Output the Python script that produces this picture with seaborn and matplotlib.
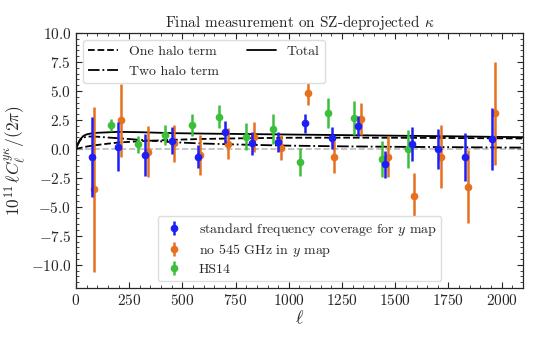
import numpy as np
import pandas as pd
import matplotlib
matplotlib.use("Agg")
import matplotlib.pyplot as plt
import seaborn as sns
from matplotlib.ticker import MultipleLocator

# ---- data ----
ell_std = [74, 199, 324, 450, 575, 700, 825, 951, 1076, 1201, 1327, 1452, 1577, 1703, 1828, 1953]
val_std = [-0.66, 0.20, -0.52, 0.72, -0.66, 1.44, 0.49, 0.58, 2.20, 0.92, 2.00, -1.32, 0.40, -0.03, -0.72, 0.86]
err_std = [3.45, 2.15, 1.80, 1.15, 1.00, 0.93, 1.00, 0.85, 0.80, 0.95, 0.86, 1.15, 1.45, 1.72, 2.08, 2.66]

ell_545 = [85, 210, 337, 462, 583, 713, 836, 962, 1089, 1214, 1339, 1465, 1590, 1715, 1842, 1967]
val_545 = [-3.50, 2.47, -0.23, 0.49, -0.52, 0.46, 1.06, 0.11, 4.80, -0.72, 2.56, -0.66, -4.05, -0.66, -3.25, 3.07]
err_545 = [7.15, 3.16, 2.20, 1.58, 1.72, 1.37, 1.29, 1.05, 1.05, 1.37, 1.37, 1.80, 1.94, 2.73, 3.16, 4.45]

ell_hs = [164, 293, 418, 547, 674, 799, 926, 1053, 1183, 1308, 1436, 1561]
val_hs = [2.07, 0.40, 1.20, 2.07, 2.78, 1.06, 1.72, -1.15, 3.07, 2.65, -0.86, -0.03]
err_hs = [0.52, 0.72, 0.86, 0.93, 1.00, 1.15, 1.30, 1.22, 1.30, 1.44, 1.58, 1.65]

ell_th = [0, 10, 20, 35, 50, 70, 100, 150, 200, 300, 450, 600, 800, 1000, 1250, 1500, 1750, 2000, 2100]
two_halo = [0, 0.45, 0.75, 0.98, 1.05, 1.07, 1.05, 0.98, 0.92, 0.78, 0.58, 0.46, 0.36, 0.28, 0.22, 0.18, 0.15, 0.12, 0.11]
one_halo = [0, 0.04, 0.08, 0.14, 0.20, 0.26, 0.34, 0.45, 0.55, 0.66, 0.78, 0.86, 0.92, 0.96, 0.97, 0.96, 0.94, 0.91, 0.90]
total = [0, 0.49, 0.83, 1.12, 1.25, 1.33, 1.39, 1.43, 1.47, 1.44, 1.36, 1.32, 1.28, 1.24, 1.19, 1.14, 1.09, 1.03, 1.01]

labels_data = ["standard frequency coverage for $y$ map", "no 545 GHz in $y$ map", "HS14"]
labels_th = ["One halo term", "Two halo term", "Total"]

# ---- style ----
sns.set_style("ticks")
plt.rcParams.update({
    "font.family": "serif",
    "font.serif": ["cmr10", "DejaVu Serif"],
    "mathtext.fontset": "cm",
    "axes.formatter.use_mathtext": True,
    "axes.unicode_minus": True,
    "font.size": 10,
})

fig = plt.figure(figsize=(5.4, 3.38), dpi=100)
ax = fig.add_axes([0.1407, 0.148, 0.8278, 0.7544])

th = pd.DataFrame({"ell": ell_th, "one": one_halo, "two": two_halo, "tot": total})

ax.axhline(0, color="#bbbbbb", ls="--", lw=1.2, zorder=1)
sns.lineplot(data=th, x="ell", y="one", ax=ax, color="black", ls="--", lw=1.3, label=labels_th[0], zorder=2)
sns.lineplot(data=th, x="ell", y="two", ax=ax, color="black", ls="-.", lw=1.3, label=labels_th[1], zorder=2)
sns.lineplot(data=th, x="ell", y="tot", ax=ax, color="black", ls="-", lw=1.3, label=labels_th[2], zorder=2)

cols = ["#1f1ff5", "#e6701e", "#3cc03c"]
h1 = ax.errorbar(ell_std, val_std, yerr=err_std, fmt="o", color=cols[0], ms=4.5, elinewidth=1.8, capsize=0, zorder=4, label=labels_data[0])
h2 = ax.errorbar(ell_545, val_545, yerr=err_545, fmt="o", color=cols[1], ms=4.5, elinewidth=1.8, capsize=0, zorder=3, label=labels_data[1])
h3 = ax.errorbar(ell_hs, val_hs, yerr=err_hs, fmt="o", color=cols[2], ms=4.5, elinewidth=1.8, capsize=0, zorder=3, label=labels_data[2])

ax.set_xlim(0, 2100)
ax.set_ylim(-12, 10)
ax.xaxis.set_major_locator(MultipleLocator(250))
ax.xaxis.set_minor_locator(MultipleLocator(50))
ax.yaxis.set_major_locator(MultipleLocator(2.5))
ax.yaxis.set_minor_locator(MultipleLocator(0.5))
ax.tick_params(which="both", direction="in", top=True, right=True, labelsize=11)
ax.tick_params(which="major", length=4, width=0.8)
ax.tick_params(which="minor", length=2, width=0.6)
for s in ax.spines.values():
    s.set_linewidth(0.9)

ax.set_xlabel(r"$\ell$", fontsize=13, labelpad=1)
ax.set_ylabel(r"$10^{11}\,\ell C_\ell^{y\kappa}/(2\pi)$", fontsize=12.5, labelpad=2)
ax.set_title(r"Final measurement on SZ-deprojected $\kappa$", fontsize=11, pad=4)

handles, labs = ax.get_legend_handles_labels()
hmap = dict(zip(labs, handles))
leg1 = ax.legend([hmap[l] for l in labels_th], labels_th, loc="upper left", ncol=2, fontsize=10,
                 handlelength=2.1, columnspacing=2.0, labelspacing=0.5, framealpha=1,
                 edgecolor="#dddddd", borderaxespad=0.5)
ax.add_artist(leg1)
ax.legend([h1, h2, h3], labels_data, loc="lower center", fontsize=10, framealpha=1, edgecolor="#dddddd",
          handlelength=1.7, handletextpad=0.9, labelspacing=0.3, borderpad=0.35)

fig.savefig("out.png", dpi=100)
